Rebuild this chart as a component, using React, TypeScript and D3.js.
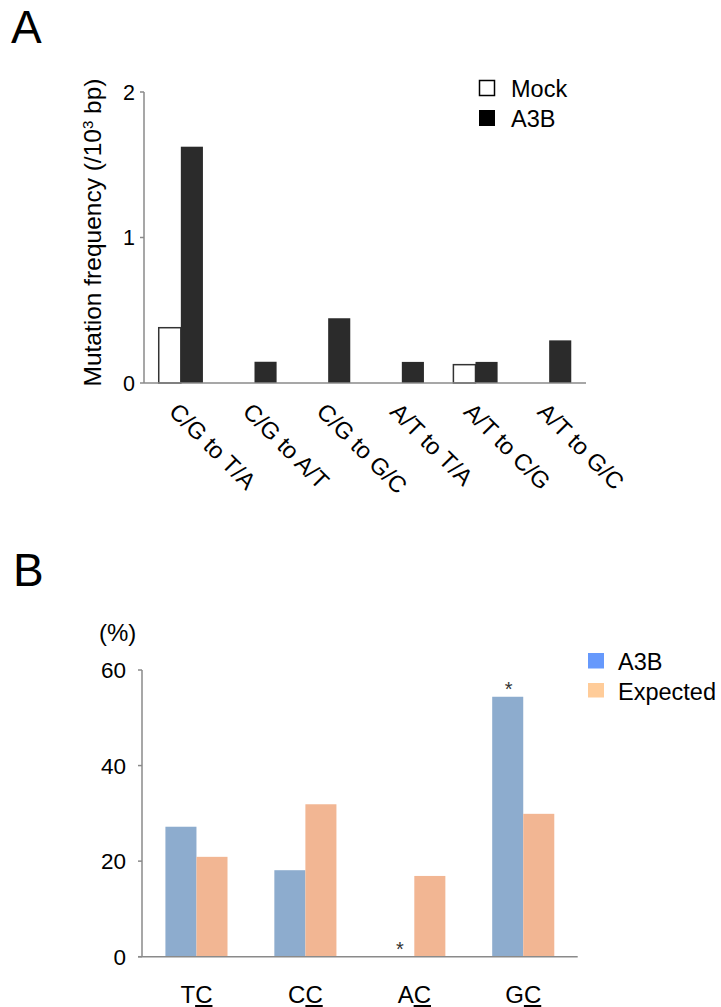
import React from "react";
import * as d3 from "d3";

const categoriesA = ["C/G to T/A", "C/G to A/T", "C/G to G/C", "A/T to T/A", "A/T to C/G", "A/T to G/C"];
const mockValues = [0.38, 0, 0, 0, 0.126, 0];
const a3bValuesA = [1.624, 0.146, 0.445, 0.145, 0.145, 0.293];
const ticksA = [0, 1, 2];

const contextPrefixes = ["T", "C", "A", "G"];
const contextTarget = "C";
const a3bValuesB = [27.2, 18.1, 0, 54.4];
const expectedValuesB = [20.9, 31.9, 16.9, 29.9];
const significantB = [false, false, true, true];
const ticksB = [0, 20, 40, 60];

const FONT = "'Liberation Sans', Arial, Helvetica, sans-serif";

export default function App() {
  // Panel A scales
  const xA = d3.scaleBand<string>().domain(categoriesA).range([144, 586]).padding(0);
  const yA = d3.scaleLinear().domain([0, 2]).range([383, 92]);
  const bwA = xA.step() * 0.3;

  // Panel B scales
  const catsB = contextPrefixes.map((p) => p + contextTarget);
  const xB = d3.scaleBand<string>().domain(catsB).range([142, 577.7]).padding(0);
  const yB = d3.scaleLinear().domain([0, 60]).range([956.7, 670]);
  const bwB = xB.step() * 0.285;

  const axisColor = "#8a8a8a";

  return (
    <svg
      width={721}
      height={1007}
      style={{ position: "absolute", left: 0, top: 0, background: "#fff" }}
      fontFamily={FONT}
    >
      <rect x={0} y={0} width={721} height={1007} fill="#fff" />
      {/* Panel labels */}
      <text x={11} y={43} fontSize={46} fill="#000">A</text>
      <text x={13} y={586} fontSize={46} fill="#000">B</text>

      {/* ===== Panel A ===== */}
      <g>
        {/* y axis */}
        <line x1={144} x2={144} y1={yA(2)} y2={yA(0)} stroke={axisColor} strokeWidth={1.5} />
        {ticksA.map((t) => (
          <g key={t}>
            <line x1={140} x2={144} y1={yA(t)} y2={yA(t)} stroke={axisColor} strokeWidth={1.5} />
            <text x={135} y={yA(t)} dy="0.36em" textAnchor="end" fontSize={21.5} fill="#000">
              {t}
            </text>
          </g>
        ))}
        <text
          transform={`translate(101,${(yA(0) + yA(2)) / 2 - 5}) rotate(-90)`}
          textAnchor="middle"
          fontSize={24.5}
          fill="#000"
        >
          Mutation frequency (/10<tspan dy="-8" fontSize={15}>3</tspan><tspan dy="8"> bp)</tspan>
        </text>

        {/* bars */}
        {categoriesA.map((c, i) => {
          const cx = (xA(c) as number) + xA.step() / 2;
          return (
            <g key={c}>
              {mockValues[i] > 0 && (
                <rect
                  x={cx - bwA}
                  y={yA(mockValues[i])}
                  width={bwA}
                  height={yA(0) - yA(mockValues[i])}
                  fill="#fff"
                  stroke="#333"
                  strokeWidth={1.5}
                />
              )}
              <rect
                x={cx}
                y={yA(a3bValuesA[i])}
                width={bwA}
                height={yA(0) - yA(a3bValuesA[i])}
                fill="#2b2b2b"
              />
              <text
                transform={`translate(${cx - 13},${413}) rotate(45)`}
                fontSize={23.5}
                fill="#000"
              >
                {c}
              </text>
            </g>
          );
        })}
        {/* x axis */}
        <line x1={144} x2={586} y1={yA(0)} y2={yA(0)} stroke={axisColor} strokeWidth={1.5} />

        {/* legend */}
        <rect x={479.5} y={80.5} width={15} height={15} fill="#fff" stroke="#000" strokeWidth={1.5} />
        <text x={511} y={97} fontSize={23.5} fill="#000">Mock</text>
        <rect x={479} y={110} width={16} height={16} fill="#000" />
        <text x={511} y={127} fontSize={23.5} fill="#000">A3B</text>
      </g>

      {/* ===== Panel B ===== */}
      <g>
        <text x={99} y={641} fontSize={24} fill="#000">(%)</text>
        <line x1={142} x2={142} y1={yB(60)} y2={yB(0)} stroke={axisColor} strokeWidth={1.5} />
        {ticksB.map((t) => (
          <g key={t}>
            <line x1={138} x2={142} y1={yB(t)} y2={yB(t)} stroke={axisColor} strokeWidth={1.5} />
            <text x={126} y={yB(t)} dy="0.36em" textAnchor="end" fontSize={22.5} fill="#000">
              {t}
            </text>
          </g>
        ))}

        {catsB.map((c, i) => {
          const cx = (xB(c) as number) + xB.step() / 2;
          const topA = yB(a3bValuesB[i]);
          return (
            <g key={c}>
              {a3bValuesB[i] > 0 && (
                <rect x={cx - bwB} y={topA} width={bwB} height={yB(0) - topA} fill="#8dacce" />
              )}
              <rect
                x={cx}
                y={yB(expectedValuesB[i])}
                width={bwB}
                height={yB(0) - yB(expectedValuesB[i])}
                fill="#f2b693"
              />
              {significantB[i] && (
                <text x={cx - bwB / 2 + 1} y={topA - 1} textAnchor="middle" fontSize={20} fill="#333">
                  *
                </text>
              )}
              <text x={cx} y={1003} textAnchor="middle" fontSize={24} fill="#000">
                {contextPrefixes[i]}
                <tspan style={{ textDecoration: "underline" }}>{contextTarget}</tspan>
              </text>
            </g>
          );
        })}
        <line x1={138} x2={577.7} y1={yB(0)} y2={yB(0)} stroke={axisColor} strokeWidth={1.5} />

        {/* legend */}
        <rect x={588} y={653} width={16} height={15.5} fill="#6699fc" />
        <text x={618} y={670} fontSize={23.5} fill="#000">A3B</text>
        <rect x={588} y={683} width={16} height={14.5} fill="#ffcc99" />
        <text x={618} y={700} fontSize={23.5} fill="#000">Expected</text>
      </g>
    </svg>
  );
}
